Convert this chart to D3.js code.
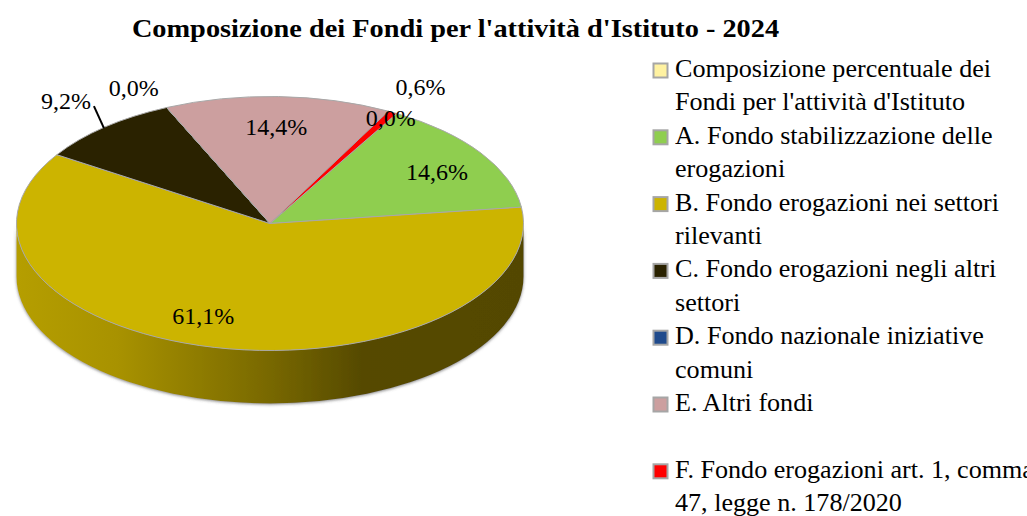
<!DOCTYPE html>
<html>
<head>
<meta charset="utf-8">
<script src="https://cdn.jsdelivr.net/npm/d3@7"></script>
<style>
  html, body { margin: 0; padding: 0; background: #fff; overflow: hidden; }
  text { font-family: "Liberation Serif", serif; fill: #000; }
</style>
</head>
<body>
<svg id="chart" width="1027" height="516"></svg>
<script>
const title = "Composizione dei Fondi per l'attività d'Istituto - 2024";
const categories = [
  "Composizione percentuale dei Fondi per l'attività d'Istituto",
  "A. Fondo stabilizzazione delle erogazioni",
  "B. Fondo erogazioni nei settori rilevanti",
  "C. Fondo erogazioni negli altri settori",
  "D. Fondo nazionale iniziative comuni",
  "E. Altri fondi",
  "F. Fondo erogazioni art. 1, comma 47, legge n. 178/2020"
];
const values = [0.0, 14.6, 61.1, 9.2, 0.0, 14.4, 0.6];
const colors = ["#fff2a1", "#8fce4f", "#ccb400", "#2a2200", "#1f4a8c", "#cc9f9f", "#ff0000"];
// how each legend entry wraps, "" keeps an empty row
const legendLines = [
  ["Composizione percentuale dei", "Fondi per l'attività d'Istituto"],
  ["A. Fondo stabilizzazione delle", "erogazioni"],
  ["B. Fondo erogazioni nei settori", "rilevanti"],
  ["C. Fondo erogazioni negli altri", "settori"],
  ["D. Fondo nazionale iniziative", "comuni"],
  ["E. Altri fondi", ""],
  ["F. Fondo erogazioni art. 1, comma", "47, legge n. 178/2020"]
];
// label offset from the rim point at the middle of each slice
const labelNudge = [[-6, 4], [-44, 19], [-11, -32], [-39, -27], [-33, -20], [-2, 30], [28, -26]];

const cx = 270, cy = 223.5, rx = 253.5, ry = 127, depth = 53;
const fmt = v => v.toFixed(1).replace(".", ",") + "%";
const svg = d3.select("#chart");
const defs = svg.append("defs");

const grad = defs.append("linearGradient").attr("id", "wall")
  .attr("gradientUnits", "userSpaceOnUse")
  .attr("x1", cx - rx).attr("x2", cx + rx).attr("y1", 0).attr("y2", 0);
[[0, "#b59e00"], [0.2, "#a89200"], [0.5, "#786800"], [0.68, "#564a00"], [1, "#534700"]]
  .forEach(s => grad.append("stop").attr("offset", s[0]).attr("stop-color", s[1]));

const shadow = defs.append("filter").attr("id", "soft")
  .attr("x", "-5%").attr("y", "-5%").attr("width", "110%").attr("height", "115%");
shadow.append("feDropShadow").attr("dx", 0).attr("dy", 1).attr("stdDeviation", 1.6)
  .attr("flood-color", "#555").attr("flood-opacity", 0.7);

// the original face is wider than Liberation Serif, so the text is stretched a little
svg.append("text")
  .attr("transform", "translate(455.5,37) scale(1.09,1)")
  .attr("text-anchor", "middle").attr("font-size", 26).attr("font-weight", "bold")
  .text(title);

// side wall, only the front half of the disc shows
const wall = `M${cx - rx},${cy}A${rx},${ry} 0 0 0 ${cx + rx},${cy}` +
  `L${cx + rx},${cy + depth}A${rx},${ry} 0 0 1 ${cx - rx},${cy + depth}Z`;
svg.append("path").attr("d", wall).attr("fill", "url(#wall)").attr("filter", "url(#soft)");

const start = 30 * Math.PI / 180;
const pie = d3.pie().sort(null).startAngle(start).endAngle(start + 2 * Math.PI);
const arcs = pie(values);
const arc = d3.arc().innerRadius(0).outerRadius(rx);

svg.append("g")
  .attr("transform", `translate(${cx},${cy}) scale(1,${ry / rx})`)
  .selectAll("path").data(arcs).join("path")
  .attr("d", arc)
  .attr("fill", (d, i) => colors[i])
  .attr("stroke", "#a8a8a8").attr("stroke-width", 1)
  .attr("vector-effect", "non-scaling-stroke");

const rim = d => {
  const a = (d.startAngle + d.endAngle) / 2;
  return [cx + rx * Math.sin(a), cy - ry * Math.cos(a)];
};

// leader line of the C slice
const pC = rim(arcs[3]);
svg.append("line")
  .attr("x1", pC[0] - 11).attr("y1", pC[1] - 21)
  .attr("x2", pC[0] - 1).attr("y2", pC[1] + 1)
  .attr("stroke", "#000").attr("stroke-width", 2);

svg.append("g").selectAll("text").data(arcs).join("text")
  .attr("x", (d, i) => rim(d)[0] + labelNudge[i][0])
  .attr("y", (d, i) => rim(d)[1] + labelNudge[i][1])
  .attr("dy", "0.35em")
  .attr("text-anchor", "middle").attr("font-size", 24)
  .text((d, i) => fmt(values[i]));

// legend
const rowY = d3.scaleLinear().domain([0, 13]).range([70.5, 504.7]);
let row = 0;
const legend = svg.append("g");
categories.forEach((name, i) => {
  legend.append("rect")
    .attr("x", 653.5).attr("y", rowY(row) - 7).attr("width", 14).attr("height", 14)
    .attr("fill", colors[i]).attr("stroke", "#a6a6a6").attr("stroke-width", 2);
  legendLines[i].forEach(line => {
    legend.append("text")
      .attr("transform", `translate(675,${rowY(row) + 6.5}) scale(1.045,1)`)
      .attr("font-size", 25).text(line);
    row++;
  });
});
</script>
</body>
</html>
